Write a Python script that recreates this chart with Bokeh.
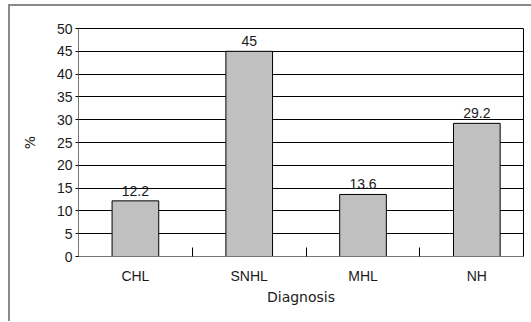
from bokeh.plotting import figure
from bokeh.models import ColumnDataSource, Range1d, FixedTicker, LabelSet
from bokeh.core.properties import value
from bokeh.embed import file_html
from bokeh.resources import INLINE

categories = ["CHL", "SNHL", "MHL", "NH"]
values = [12.2, 45, 13.6, 29.2]
value_labels = ["12.2", "45", "13.6", "29.2"]
y_ticks = [0, 5, 10, 15, 20, 25, 30, 35, 40, 45, 50]

positions = [i + 0.5 for i in range(len(categories))]
boundaries = [i for i in range(1, len(categories))]

src = ColumnDataSource(dict(x=positions, top=values, lab=value_labels))

FONT = "Liberation Sans"
TITLE_FONT = "DejaVu Sans"
TXT = "#1a1a1a"

p = figure(width=523, height=317, output_backend="svg", toolbar_location=None,
           x_range=Range1d(0, 3.91), y_range=Range1d(0, 50),
           min_border_left=70, min_border_top=24, min_border_right=8, min_border_bottom=65)
p.border_fill_color = None
p.background_fill_color = "white"
p.styles = {"box-shadow": "inset 2px 2px 0 0 #8a8a8a", "margin-left": "8px", "margin-top": "4px"}
p.outline_line_color = "black"
p.outline_line_width = 1

p.vbar(x="x", top="top", width=0.41, bottom=0, source=src,
       fill_color="#c0c0c0", line_color="black", line_width=1)

p.add_layout(LabelSet(x="x", y="top", text="lab", source=src, text_align="center",
                      text_baseline="bottom", y_offset=5, text_font=value(FONT),
                      text_font_size="14px", text_color=TXT))

# x axis
p.xaxis.ticker = FixedTicker(ticks=positions, minor_ticks=boundaries)
p.xaxis.major_label_overrides = {pos: c for pos, c in zip(positions, categories)}
p.xaxis.major_tick_in = 0
p.xaxis.major_tick_out = 0
p.xaxis.minor_tick_in = 9
p.xaxis.minor_tick_out = 0
p.xaxis.minor_tick_line_color = "black"
p.xaxis.axis_line_color = "#777777"
p.xaxis.axis_line_width = 1
p.xaxis.major_label_standoff = 11
p.xaxis.axis_label = "Diagnosis"
p.xaxis.axis_label_standoff = 2
p.xgrid.visible = False

# y axis
p.yaxis.ticker = FixedTicker(ticks=y_ticks, minor_ticks=[])
p.yaxis.major_tick_in = 0
p.yaxis.major_tick_out = 3
p.yaxis.major_tick_line_color = "black"
p.yaxis.axis_line_color = "#777777"
p.yaxis.major_label_standoff = 3
p.yaxis.axis_label = "%"
p.yaxis.axis_label_standoff = 16
p.ygrid.grid_line_color = "black"
p.ygrid.grid_line_width = 1

for ax in (p.xaxis, p.yaxis):
    ax.major_label_text_font = FONT
    ax.major_label_text_font_size = "14px"
    ax.major_label_text_color = TXT
    ax.axis_label_text_font = TITLE_FONT
    ax.axis_label_text_font_size = "14px"
    ax.axis_label_text_font_style = "normal"
    ax.axis_label_text_color = TXT

open("out.html", "w").write(file_html(p, INLINE))
